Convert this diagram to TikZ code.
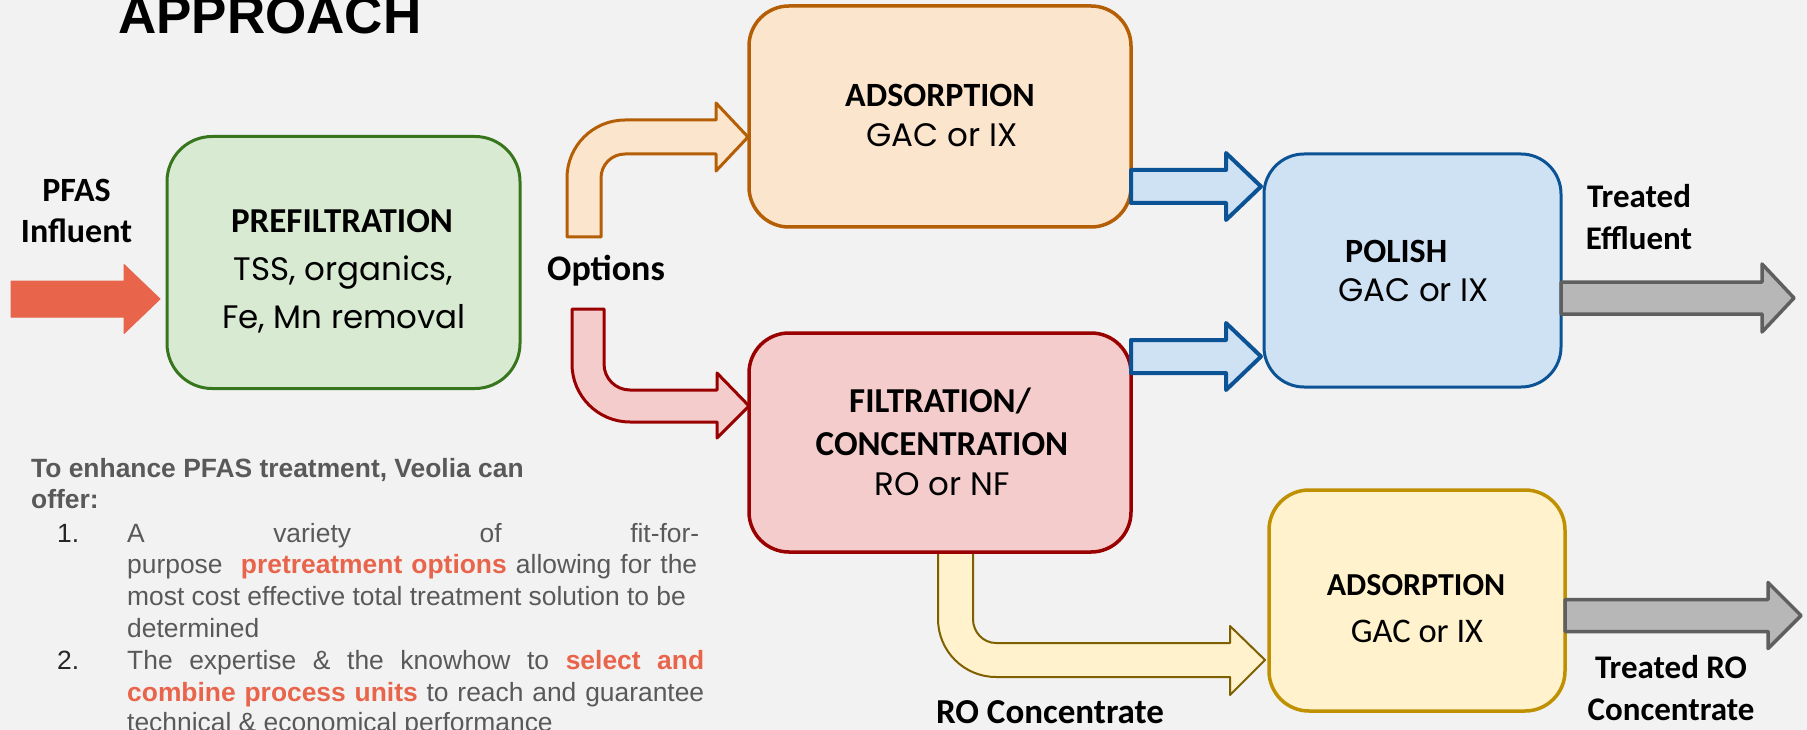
\documentclass[tikz,border=0pt]{standalone}
\usepackage{fontspec}
\setmainfont{Carlito}
\newfontfamily\gothic{Poppins}
\newfontfamily\arialfont{Liberation Sans}
\usetikzlibrary{calc}
\definecolor{bg}{HTML}{F2F2F2}
\definecolor{greenF}{HTML}{D9EAD3}
\definecolor{greenD}{HTML}{38761D}
\definecolor{orangeF}{HTML}{FCE5CD}
\definecolor{orangeD}{HTML}{B45F06}
\definecolor{redF}{HTML}{F4CCCC}
\definecolor{redD}{HTML}{990000}
\definecolor{blueF}{HTML}{CFE2F3}
\definecolor{blueD}{HTML}{0B5394}
\definecolor{yelF}{HTML}{FFF2CC}
\definecolor{yelD}{HTML}{BF9000}
\definecolor{yelA}{HTML}{7F6000}
\definecolor{grayF}{HTML}{B7B7B7}
\definecolor{grayD}{HTML}{5F5F5F}
\definecolor{influ}{HTML}{E8644B}
\definecolor{txtgray}{HTML}{595959}
\definecolor{hl}{HTML}{E8644B}
\definecolor{numcol}{HTML}{262626}
\newcommand\blockarr[6]{%
  \draw[#1] (#2) ++(0,-#5) -- ++(#3,0) -- ++(0,#5-#6) -- ++(#4,#6) -- ++(-#4,#6) -- ++(0,#5-#6) -- ++(-#3,0) -- cycle;}
\tikzset{
  box/.style 2 args={draw=#1, fill=#2, line width=3pt, rounded corners=40pt, inner sep=0pt, outer sep=0pt},
  lbl/.style={inner sep=0pt, anchor=base, align=center, font=\bfseries\fontsize{34}{40}\selectfont},
  ttl/.style={inner sep=0pt, anchor=base, font=\bfseries\fontsize{34}{40}\selectfont},
  sub/.style={inner sep=0pt, anchor=base, font=\gothic\fontsize{32.5}{38}\selectfont},
  body/.style={inner sep=0pt, anchor=base west, text=txtgray, font=\arialfont\fontsize{26.4}{30}\selectfont},
  arr/.style 2 args={draw=#1, fill=#2, line join=round},
}
\begin{document}
\begin{tikzpicture}[x=1pt,y=-1pt]
\fill[bg] (0,0) rectangle (1807,730);
\useasboundingbox (0,0) rectangle (1807,730);

% title
\node[anchor=base west, inner sep=0pt] (title) at (118,34) {\arialfont\bfseries\fontsize{53}{56}\selectfont APPROACH};

% bent arrow drawn under box
\draw[arr={yelA}{yelF}, line width=2pt] (938,551) -- (973,551) -- (973,619) .. controls (973,632.3) and (983.3,643) .. (996,643) -- (1230,643) -- (1230,626) -- (1265,660) -- (1230,695) -- (1230,677) -- (996,677) .. controls (964,677) and (938,651) .. (938,619) -- cycle;

% boxes
\node[box={greenD}{greenF}, rounded corners=45pt, minimum width=353pt, minimum height=252pt] (prefilt) at (343.5,262.5) {};
\node[box={orangeD}{orangeF}, line width=3.5pt, minimum width=382pt, minimum height=221pt] (ads1) at (940,116.5) {};
\node[box={redD}{redF}, line width=3.5pt, minimum width=382pt, minimum height=219pt] (filt) at (940,442.5) {};
\node[box={blueD}{blueF}, minimum width=297pt, minimum height=233pt] (polish) at (1412.5,270.5) {};
\node[box={yelD}{yelF}, line width=3.5pt, minimum width=296pt, minimum height=221pt] (ads2) at (1417,600.5) {};

% option arrows
\draw[arr={orangeD}{orangeF}, line width=3pt] (567,237) -- (567,178) .. controls (567,146) and (593,120) .. (625,120) -- (716,120) -- (716,103) -- (748,137) -- (716,171) -- (716,154) -- (625,154) .. controls (611.7,154) and (601,164.7) .. (601,178) -- (601,237) -- cycle;
\draw[arr={redD}{redF}, line width=3pt] (572,309) -- (604,309) -- (604,364) .. controls (604,378.4) and (615.6,390) .. (630,390) -- (717,390) -- (717,373) -- (749,406) -- (717,438) -- (717,422) -- (630,422) .. controls (598,422) and (572,396) .. (572,364) -- cycle;

% straight block arrows
\coordinate (inS) at (11,299);
\blockarr{arr={influ}{influ}, line width=1pt}{inS}{113}{36}{18}{34.5}
\path (ads1.east) ++(0,70) coordinate (b1s);
\path (filt.east) ++(0,-86) coordinate (b2s);
\blockarr{arr={blueD}{blueF}, line width=4pt}{b1s}{95}{35}{16.5}{33.5}
\blockarr{arr={blueD}{blueF}, line width=4pt}{b2s}{95}{35}{16.5}{33.5}
\path (polish.east) ++(0,27.5) coordinate (g1s);
\path (ads2.east) ++(0,15) coordinate (g2s);
\blockarr{arr={grayD}{grayF}, line width=3.5pt}{g1s}{201}{32}{16}{34}
\blockarr{arr={grayD}{grayF}, line width=3.5pt}{g2s}{203}{33}{16}{33}

% labels
\node[lbl] (pfas1) at (76.5,202) {PFAS};
\node[lbl] (pfas2) at (76.5,243) {Influent};
\node[lbl, font=\bfseries\fontsize{36}{40}\selectfont] (opt) at (606,280) {Options};
\node[lbl, font=\bfseries\fontsize{33}{40}\selectfont] (te1) at (1639,208) {Treated};
\node[lbl, font=\bfseries\fontsize{33}{40}\selectfont] (te2) at (1639,250) {Effluent};
\node[lbl, font=\bfseries\fontsize{33}{40}\selectfont] (tr1) at (1671,678) {Treated RO};
\node[lbl, font=\bfseries\fontsize{33}{40}\selectfont] (tr2) at (1671,720) {Concentrate};
\node[lbl, font=\bfseries\fontsize{35}{40}\selectfont] (roc) at (1050,723) {RO Concentrate};

% box texts
\node[ttl, font=\bfseries\fontsize{35}{40}\selectfont] (pt1) at (342,233) {PREFILTRATION};
\node[sub] (pt2) at (343.5,280) {TSS, organics,};
\node[sub] (pt3) at (344,328) {Fe, Mn removal};
\node[ttl] (a1t) at (940,107) {ADSORPTION};
\node[sub] (a1s) at (942,147) {GAC or IX};
\node[ttl, font=\bfseries\fontsize{35}{40}\selectfont] (f1) at (940,412) {FILTRATION/};
\node[ttl, font=\bfseries\fontsize{35}{40}\selectfont] (f2) at (942,455) {CONCENTRATION};
\node[sub] (f3) at (942,495) {RO or NF};
\node[ttl, anchor=base west] (p1) at (1345,262) {POLISH};
\node[sub, anchor=base west] (p2) at (1338,301) {GAC or IX};
\node[ttl, font=\bfseries\fontsize{32}{40}\selectfont] (a2t) at (1416,595) {ADSORPTION};
\node[ttl, font=\fontsize{34.5}{40}\selectfont] (a2s) at (1417,642) {GAC or IX};

% text block
\node[body, font=\arialfont\bfseries\fontsize{26.4}{30}\selectfont] (h1) at (31,477) {To enhance PFAS treatment, Veolia can};
\node[body, font=\arialfont\bfseries\fontsize{26.4}{30}\selectfont] (h2) at (31,508) {offer:};
\node[body, text=numcol] (n1) at (57,542) {1.};
\node[body] (l1) at (127,542) {\makebox[572pt][s]{A variety of fit-for-}};
\node[body] (l2) at (127,573) {\makebox[570pt][s]{purpose \ \textcolor{hl}{\bfseries pretreatment options} allowing for the}};
\node[body] (l3) at (127,605) {most cost effective total treatment solution to be};
\node[body] (l4) at (127,637) {determined};
\node[body, text=numcol] (n2) at (57,669) {2.};
\node[body] (l5) at (127,669) {\makebox[577pt][s]{The expertise \& the knowhow to \textcolor{hl}{\bfseries select and}}};
\node[body] (l6) at (127,701) {\makebox[577pt][s]{\textcolor{hl}{\bfseries combine process units} to reach and guarantee}};
\node[body] (l7) at (127,731) {technical \& economical performance};
\end{tikzpicture}
\end{document}
